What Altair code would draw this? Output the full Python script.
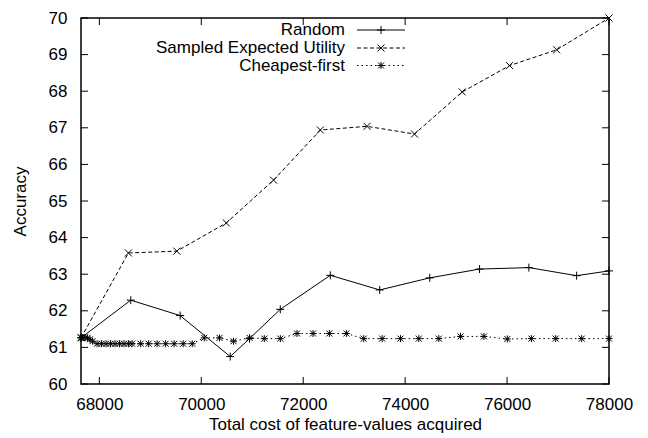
import altair as alt
import pandas as pd

# ---------------- data ----------------
SERIES = ["Random", "Sampled Expected Utility", "Cheapest-first"]

rand_x = [67640, 68617, 69585, 70568, 70947, 71550, 72532, 73501, 74483,
          75460, 76428, 77365, 78000]
rand_y = [61.26, 62.29, 61.87, 60.75, 61.24, 62.04, 62.97, 62.57, 62.90,
          63.14, 63.18, 62.96, 63.09]

seu_x = [67640, 68570, 69520, 70490, 71418, 72336, 73253, 74183, 75120,
         76049, 76973, 78000]
seu_y = [61.26, 63.58, 63.63, 64.40, 65.57, 66.94, 67.04, 66.83, 67.98,
         68.70, 69.13, 70.00]

cheap_x = [67640, 67680, 67720, 67768, 67817, 67866, 67955, 68043, 68132,
           68220, 68308, 68397, 68485, 68574, 68643, 68810, 68967, 69134,
           69301, 69468, 69645, 69822, 70057, 70358, 70633, 70948, 71236,
           71551, 71879, 72193, 72513, 72847, 73187, 73549, 73908, 74268,
           74661, 75087, 75545, 76005, 76477, 76954, 77465, 78000]
cheap_y = [61.27, 61.27, 61.27, 61.26, 61.22, 61.17, 61.10, 61.10, 61.10,
           61.10, 61.10, 61.10, 61.10, 61.10, 61.10, 61.10, 61.10, 61.10,
           61.10, 61.10, 61.10, 61.10, 61.26, 61.26, 61.17, 61.26, 61.24,
           61.24, 61.38, 61.38, 61.38, 61.38, 61.24, 61.24, 61.24, 61.24,
           61.24, 61.30, 61.30, 61.23, 61.24, 61.24, 61.24, 61.24]

X_TICKS = [68000, 70000, 72000, 74000, 76000, 78000]
Y_TICKS = [60, 61, 62, 63, 64, 65, 66, 67, 68, 69, 70]
X_DOMAIN = [67640, 78000]
Y_DOMAIN = [60, 70]

X_TITLE = "Total cost of feature-values acquired"
Y_TITLE = "Accuracy"

# ---------------- styles ----------------
W, H = 528, 366
FONT = "Liberation Sans"
FS = 17
TICK_LEN = 7

DASH_SEU = [4, 2.5]
DASH_CHEAP = [1.5, 3]

MARK_PLUS = "M-4,0H4M0,-4V4"
MARK_X = "M-3.5,-3.5L3.5,3.5M-3.5,3.5L3.5,-3.5"
MARK_STAR = "M-3.5,0H3.5M0,-3.5V3.5M-3,-3L3,3M-3,3L3,-3"
MARKS = [MARK_PLUS, MARK_X, MARK_STAR]
DASHES = [None, DASH_SEU, DASH_CHEAP]

# legend placement (pixels inside the plot area)
LEG_LABEL_X = 264
LEG_LINE_X1, LEG_LINE_X2 = 276, 324
LEG_SYM_X = 300
LEG_ROWS_Y = [12, 30, 47.5]

df_r = pd.DataFrame({"x": rand_x, "y": rand_y, "series": SERIES[0]})
df_s = pd.DataFrame({"x": seu_x, "y": seu_y, "series": SERIES[1]})
df_c = pd.DataFrame({"x": cheap_x, "y": cheap_y, "series": SERIES[2]})

xscale = alt.Scale(domain=X_DOMAIN, nice=False, zero=False)
yscale = alt.Scale(domain=Y_DOMAIN, nice=False, zero=False)

x_main = alt.Axis(values=X_TICKS, format="d", ticks=False, tickSize=0,
                  domain=False, grid=False, labelPadding=25,
                  labelBaseline="alphabetic", titleY=45,
                  titleBaseline="alphabetic")
y_main = alt.Axis(values=Y_TICKS, format="d", ticks=False, tickSize=0,
                  domain=False, grid=False, labelPadding=14,
                  titleX=-61, titleBaseline="middle")


def enc(xaxis=None, yaxis=None, xtitle=None, ytitle=None):
    return dict(
        x=alt.X("x:Q", scale=xscale, axis=xaxis, title=xtitle),
        y=alt.Y("y:Q", scale=yscale, axis=yaxis, title=ytitle),
    )


def line_kwargs(dash):
    kw = dict(color="black", strokeWidth=1)
    if dash is not None:
        kw["strokeDash"] = dash
    return kw


layers = []
for i, df in enumerate([df_r, df_s, df_c]):
    if i == 0:
        e = enc(x_main, y_main, X_TITLE, Y_TITLE)
    else:
        e = enc()
    layers.append(alt.Chart(df).mark_line(**line_kwargs(DASHES[i])).encode(**e))
    layers.append(
        alt.Chart(df).mark_point(shape=MARKS[i], size=4, filled=False,
                                 color="black", strokeWidth=1,
                                 opacity=1).encode(**enc()))

# inward ticks on all four sides (gnuplot style), placed through the scales
ytick_df = pd.DataFrame({"v": Y_TICKS})
xtick_df = pd.DataFrame({"v": X_TICKS})
yv = alt.Y("v:Q", scale=yscale, axis=None)
xv = alt.X("v:Q", scale=xscale, axis=None)
layers += [
    alt.Chart(ytick_df).mark_rule(color="black", strokeWidth=1).encode(
        y=yv, x=alt.value(0), x2=alt.value(TICK_LEN)),
    alt.Chart(ytick_df).mark_rule(color="black", strokeWidth=1).encode(
        y=yv, x=alt.value(W - TICK_LEN), x2=alt.value(W)),
    alt.Chart(xtick_df).mark_rule(color="black", strokeWidth=1).encode(
        x=xv, y=alt.value(H - TICK_LEN), y2=alt.value(H)),
    alt.Chart(xtick_df).mark_rule(color="black", strokeWidth=1).encode(
        x=xv, y=alt.value(0), y2=alt.value(TICK_LEN)),
]

# legend (gnuplot style: label on the left, line sample with marker on the right)
for i, name in enumerate(SERIES):
    one = pd.DataFrame({"label": [name]})
    ly = LEG_ROWS_Y[i]
    layers.append(
        alt.Chart(one).mark_text(align="right", baseline="middle", font=FONT,
                                 fontSize=FS, color="black").encode(
            x=alt.value(LEG_LABEL_X), y=alt.value(ly), text="label:N"))
    layers.append(
        alt.Chart(one).mark_rule(**line_kwargs(DASHES[i])).encode(
            x=alt.value(LEG_LINE_X1), x2=alt.value(LEG_LINE_X2),
            y=alt.value(ly)))
    layers.append(
        alt.Chart(one).mark_point(shape=MARKS[i], size=4, filled=False,
                                  color="black", strokeWidth=1,
                                  opacity=1).encode(
            x=alt.value(LEG_SYM_X), y=alt.value(ly)))

chart = alt.layer(*layers).resolve_axis(
    x="independent", y="independent"
).properties(
    width=W, height=H,
    autosize=alt.AutoSizeParams(type="none"),
    padding={"left": 73, "top": 10, "right": 30, "bottom": 52},
).configure_view(
    stroke="black", strokeWidth=1.5
).configure_axis(
    labelFont=FONT, titleFont=FONT, labelFontSize=FS, titleFontSize=FS,
    labelColor="black", titleColor="black", titleFontWeight="normal",
    labelFlush=False, labelOverlap=False,
)

chart.save("out.html", embed_options={"renderer": "svg", "actions": False})
